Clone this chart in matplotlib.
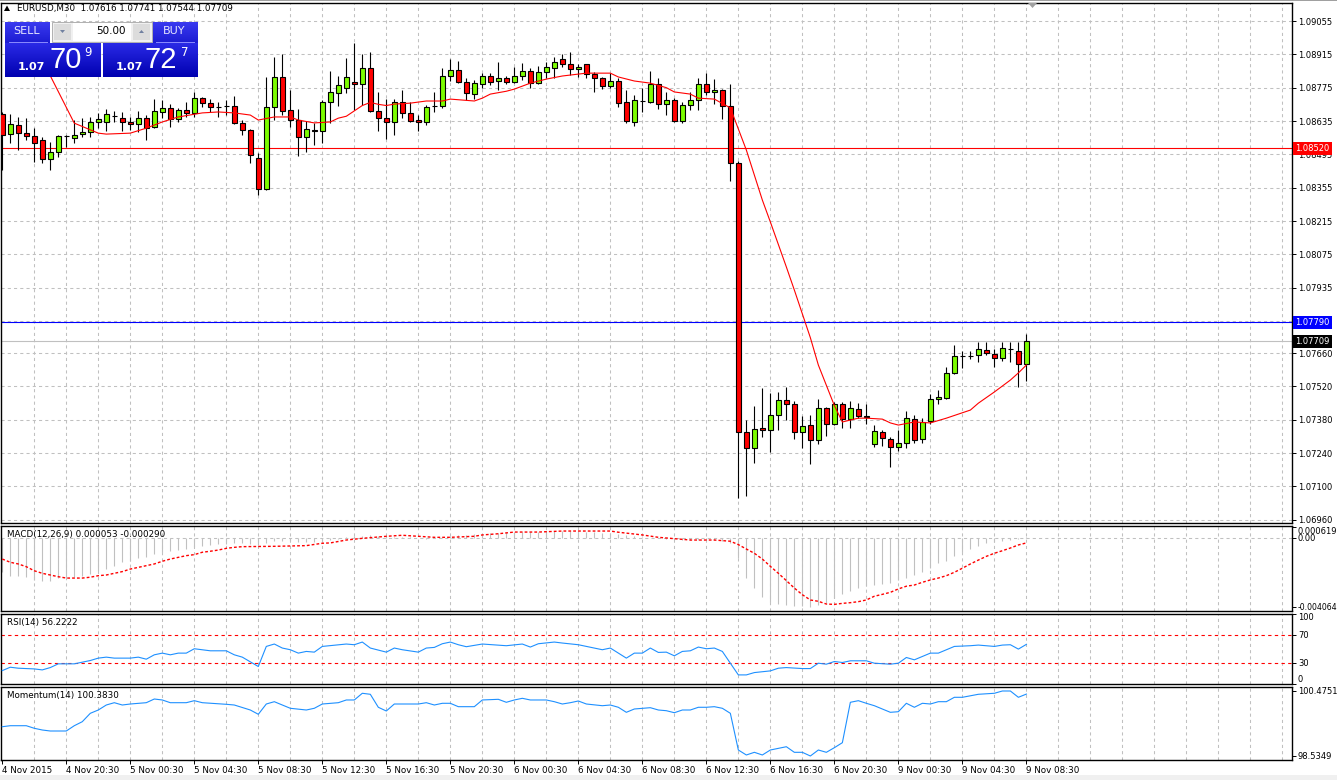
import numpy as np
import matplotlib
matplotlib.use('Agg')
import matplotlib.pyplot as plt
import matplotlib.transforms as mtransforms
from matplotlib.patches import Rectangle, Polygon
from matplotlib.colors import to_rgb

plt.rcParams['font.family'] = ['DejaVu Sans']
plt.rcParams['font.size'] = 6.3

# ---------------- data ----------------
symbol = 'EURUSD,M30'
time_labels = ['4 Nov 2015', '4 Nov 20:30', '5 Nov 00:30', '5 Nov 04:30', '5 Nov 08:30',
               '5 Nov 12:30', '5 Nov 16:30', '5 Nov 20:30', '6 Nov 00:30', '6 Nov 04:30',
               '6 Nov 08:30', '6 Nov 12:30', '6 Nov 16:30', '6 Nov 20:30', '9 Nov 00:30',
               '9 Nov 04:30', '9 Nov 08:30']

opens = [
    1.08664, 1.08580, 1.08618, 1.08584, 1.08572, 1.08555, 1.08475, 1.08505, 1.08572, 1.08563,
    1.08580, 1.08589, 1.08631, 1.08631, 1.08656, 1.08647, 1.08631, 1.08622, 1.08647, 1.08610,
    1.08673, 1.08689, 1.08643, 1.08681, 1.08668, 1.08731, 1.08710, 1.08694, 1.08698, 1.08698,
    1.08627, 1.08597, 1.08479, 1.08349, 1.08694, 1.08820, 1.08681, 1.08639, 1.08568, 1.08597,
    1.08593, 1.08715, 1.08752, 1.08773, 1.08799, 1.08790, 1.08857, 1.08677, 1.08647, 1.08631,
    1.08715, 1.08668, 1.08639, 1.08631, 1.08698, 1.08698, 1.08824, 1.08849, 1.08799, 1.08748,
    1.08790, 1.08824, 1.08803, 1.08815, 1.08799, 1.08824, 1.08845, 1.08794, 1.08841, 1.08857,
    1.08895, 1.08874, 1.08853, 1.08874, 1.08832, 1.08815, 1.08782, 1.08803, 1.08715, 1.08631,
    1.08719, 1.08715, 1.08790, 1.08706, 1.08723, 1.08635, 1.08702, 1.08723, 1.08790, 1.08757,
    1.08765, 1.08698, 1.08459, 1.07329, 1.07261, 1.07345, 1.07337, 1.07400, 1.07463, 1.07446,
    1.07329, 1.07358, 1.07295, 1.07429, 1.07362, 1.07446, 1.07383, 1.07425, 1.07392, 1.07279,
    1.07328, 1.07299, 1.07266, 1.07282, 1.07383, 1.07299, 1.07375, 1.07467, 1.07471, 1.07577,
    1.07648, 1.07648, 1.07652, 1.07673, 1.07656, 1.07639, 1.07677, 1.07669, 1.07616]

highs = [
    1.08673, 1.08664, 1.08652, 1.08647, 1.08605, 1.08568, 1.08547, 1.08576, 1.08576, 1.08639,
    1.08647, 1.08652, 1.08668, 1.08685, 1.08677, 1.08673, 1.08652, 1.08677, 1.08660, 1.08727,
    1.08723, 1.08706, 1.08689, 1.08715, 1.08757, 1.08736, 1.08727, 1.08715, 1.08723, 1.08740,
    1.08639, 1.08601, 1.08500, 1.08820, 1.08904, 1.08916, 1.08765, 1.08685, 1.08635, 1.08627,
    1.08723, 1.08845, 1.08824, 1.08899, 1.08962, 1.08916, 1.08925, 1.08757, 1.08727, 1.08727,
    1.08765, 1.08715, 1.08660, 1.08702, 1.08757, 1.08857, 1.08895, 1.08887, 1.08815, 1.08807,
    1.08836, 1.08836, 1.08883, 1.08824, 1.08862, 1.08878, 1.08857, 1.08866, 1.08883, 1.08904,
    1.08916, 1.08925, 1.08874, 1.08874, 1.08841, 1.08820, 1.08836, 1.08815, 1.08765, 1.08744,
    1.08773, 1.08845, 1.08815, 1.08757, 1.08731, 1.08715, 1.08757, 1.08815, 1.08836, 1.08811,
    1.08769, 1.08790, 1.08465, 1.07379, 1.07438, 1.07513, 1.07492, 1.07497, 1.07518, 1.07459,
    1.07396, 1.07400, 1.07467, 1.07434, 1.07455, 1.07455, 1.07459, 1.07450, 1.07446, 1.07358,
    1.07337, 1.07308, 1.07337, 1.07417, 1.07400, 1.07387, 1.07488, 1.07505, 1.07602, 1.07694,
    1.07669, 1.07669, 1.07707, 1.07707, 1.07677, 1.07707, 1.07707, 1.07707, 1.07741]

lows = [
    1.08429, 1.08542, 1.08513, 1.08555, 1.08463, 1.08459, 1.08429, 1.08484, 1.08526, 1.08542,
    1.08568, 1.08568, 1.08605, 1.08593, 1.08631, 1.08593, 1.08597, 1.08589, 1.08555, 1.08605,
    1.08647, 1.08610, 1.08631, 1.08652, 1.08652, 1.08694, 1.08673, 1.08652, 1.08660, 1.08622,
    1.08576, 1.08459, 1.08324, 1.08345, 1.08639, 1.08660, 1.08610, 1.08488, 1.08505, 1.08534,
    1.08542, 1.08627, 1.08698, 1.08752, 1.08681, 1.08702, 1.08673, 1.08593, 1.08559, 1.08576,
    1.08647, 1.08631, 1.08593, 1.08618, 1.08673, 1.08689, 1.08803, 1.08794, 1.08723, 1.08727,
    1.08773, 1.08786, 1.08765, 1.08790, 1.08794, 1.08807, 1.08773, 1.08790, 1.08815, 1.08815,
    1.08862, 1.08828, 1.08820, 1.08815, 1.08757, 1.08769, 1.08773, 1.08694, 1.08627, 1.08614,
    1.08673, 1.08710, 1.08685, 1.08660, 1.08631, 1.08627, 1.08681, 1.08681, 1.08744, 1.08706,
    1.08643, 1.08383, 1.07051, 1.07060, 1.07198, 1.07308, 1.07245, 1.07337, 1.07379, 1.07299,
    1.07261, 1.07194, 1.07279, 1.07312, 1.07358, 1.07345, 1.07345, 1.07387, 1.07362, 1.07266,
    1.07270, 1.07182, 1.07249, 1.07261, 1.07282, 1.07282, 1.07362, 1.07446, 1.07467, 1.07572,
    1.07597, 1.07635, 1.07623, 1.07652, 1.07602, 1.07627, 1.07623, 1.07518, 1.07544]

closes = [
    1.08576, 1.08622, 1.08584, 1.08572, 1.08542, 1.08475, 1.08505, 1.08572, 1.08570, 1.08576,
    1.08589, 1.08631, 1.08643, 1.08664, 1.08658, 1.08631, 1.08622, 1.08647, 1.08605, 1.08677,
    1.08689, 1.08643, 1.08681, 1.08668, 1.08731, 1.08710, 1.08694, 1.08692, 1.08696, 1.08627,
    1.08597, 1.08492, 1.08349, 1.08694, 1.08820, 1.08677, 1.08639, 1.08568, 1.08601, 1.08595,
    1.08715, 1.08757, 1.08786, 1.08820, 1.08790, 1.08857, 1.08677, 1.08647, 1.08631, 1.08715,
    1.08668, 1.08635, 1.08631, 1.08694, 1.08700, 1.08824, 1.08849, 1.08799, 1.08752, 1.08794,
    1.08824, 1.08799, 1.08815, 1.08799, 1.08824, 1.08845, 1.08794, 1.08841, 1.08862, 1.08883,
    1.08874, 1.08853, 1.08862, 1.08832, 1.08815, 1.08782, 1.08803, 1.08710, 1.08635, 1.08723,
    1.08721, 1.08790, 1.08706, 1.08723, 1.08635, 1.08702, 1.08723, 1.08790, 1.08757, 1.08765,
    1.08698, 1.08459, 1.07329, 1.07261, 1.07341, 1.07337, 1.07400, 1.07463, 1.07446, 1.07329,
    1.07354, 1.07295, 1.07429, 1.07362, 1.07446, 1.07383, 1.07429, 1.07396, 1.07394, 1.07332,
    1.07303, 1.07266, 1.07282, 1.07387, 1.07295, 1.07371, 1.07467, 1.07476, 1.07577, 1.07648,
    1.07648, 1.07650, 1.07677, 1.07660, 1.07639, 1.07681, 1.07679, 1.07614, 1.07709]

# moving average line (bar, price)
ma_bars = [2, 6, 9, 12, 13, 16, 18, 20, 22, 25, 27, 29, 31, 32, 34, 36, 37, 39, 41, 42,
           43, 45, 46, 47, 48, 49, 51, 53, 55, 56, 59, 60, 61, 63, 64, 66, 68, 70, 72, 73,
           76, 77, 79, 81, 83, 84, 86, 87, 89, 91, 93, 95, 96, 98, 99, 101, 102, 104, 105, 107,
           108, 110, 111, 112, 114, 116, 118, 121, 122, 124, 126, 127, 128]
ma_vals = [1.09005, 1.08825, 1.08626, 1.08584, 1.08580, 1.08584, 1.08605, 1.08631, 1.08652, 1.08669,
           1.08673, 1.08669, 1.08660, 1.08639, 1.08652, 1.08652, 1.08639, 1.08627, 1.08631, 1.08647,
           1.08655, 1.08700, 1.08713, 1.08705, 1.08700, 1.08706, 1.08710, 1.08719, 1.08719, 1.08727,
           1.08719, 1.08731, 1.08748, 1.08760, 1.08769, 1.08794, 1.08811, 1.08824, 1.08832, 1.08836,
           1.08836, 1.08820, 1.08803, 1.08794, 1.08775, 1.08757, 1.08748, 1.08731, 1.08727, 1.08690,
           1.08513, 1.08303, 1.08211, 1.08022, 1.07925, 1.07725, 1.07610, 1.07440, 1.07371, 1.07387,
           1.07387, 1.07383, 1.07367, 1.07358, 1.07371, 1.07367, 1.07387, 1.07421, 1.07450, 1.07497,
           1.07547, 1.07577, 1.07610]

red_level = 1.08520
blue_level = 1.07790

price_ticks = [1.09055, 1.08915, 1.08775, 1.08635, 1.08495, 1.08355, 1.08215, 1.08075, 1.07935,
               1.07797, 1.07660, 1.07520, 1.07380, 1.07240, 1.07100, 1.06960]
price_tick_text = ['1.09055', '1.08915', '1.08775', '1.08635', '1.08495', '1.08355', '1.08215',
                   '1.08075', '1.07935', '', '1.07660', '1.07520', '1.07380', '1.07240',
                   '1.07100', '1.06960']

macd_main = [
    -0.00200, -0.00222, -0.00222, -0.00228, -0.00247, -0.00251, -0.00251, -0.00237, -0.00231, -0.00231,
    -0.00222, -0.00212, -0.00193, -0.00183, -0.00163, -0.00143, -0.00134, -0.00120, -0.00114, -0.00094,
    -0.00084, -0.00075, -0.00071, -0.00065, -0.00055, -0.00047, -0.00041, -0.00038, -0.00035, -0.00032,
    -0.00032, -0.00035, -0.00044, -0.00029, -0.00018, -0.00015, -0.00018, -0.00024, -0.00024, -0.00024,
    -0.00018, -0.00012, -0.00006, 0.00006, 0.00012, 0.00012, 0.00015, 0.00012, 0.00009, 0.00006,
    0.00006, 0.00003, 0.00000, -0.00003, 0.00000, 0.00006, 0.00012, 0.00015, 0.00018, 0.00021,
    0.00024, 0.00029, 0.00032, 0.00035, 0.00035, 0.00038, 0.00038, 0.00038, 0.00041, 0.00041,
    0.00041, 0.00041, 0.00041, 0.00038, 0.00035, 0.00032, 0.00029, 0.00024, 0.00015, 0.00009,
    0.00006, 0.00000, 0.00000, -0.00006, -0.00009, -0.00012, -0.00012, -0.00009, -0.00009, -0.00009,
    -0.00015, -0.00029, -0.00118, -0.00236, -0.00295, -0.00346, -0.00375, -0.00389, -0.00395, -0.00400,
    -0.00400, -0.004064, -0.00392, -0.00380, -0.00353, -0.00330, -0.00312, -0.00295, -0.00283, -0.00277,
    -0.00271, -0.00265, -0.00247, -0.00233, -0.00218, -0.00200, -0.00177, -0.00150, -0.00134, -0.00104,
    -0.00084, -0.00062, -0.00047, -0.00029, -0.00021, -0.00015, -0.00009, -0.00003, 0.000053]

sig_bars = [0, 1, 2, 3, 4, 5, 6, 7, 8, 10, 11, 12, 13, 14, 15, 16, 17, 18, 19, 20,
            21, 22, 23, 24, 25, 26, 27, 28, 29, 30, 34, 38, 40, 41, 43, 45, 48, 50, 52, 54,
            56, 59, 60, 62, 64, 67, 70, 76, 77, 80, 82, 84, 86, 89, 91, 92, 93, 94, 95, 96,
            97, 98, 99, 100, 101, 102, 103, 104, 105, 106, 107, 108, 109, 110, 111, 112, 113, 114, 115, 116,
            117, 118, 119, 120, 121, 122, 123, 124, 125, 126, 127, 128]
sig_vals = [-0.00124, -0.00143, -0.00153, -0.00169, -0.00193, -0.00208, -0.00218, -0.00228, -0.00236, -0.00236,
            -0.00231, -0.00222, -0.00218, -0.00208, -0.00198, -0.00183, -0.00173, -0.00163, -0.00153, -0.00137,
            -0.00124, -0.00114, -0.00104, -0.00098, -0.00084, -0.00078, -0.00071, -0.00061, -0.00055, -0.00051,
            -0.00049, -0.00045, -0.00031, -0.00029, -0.00012, -0.00002, 0.00010, 0.00016, 0.00010, 0.00004,
            0.00004, 0.00010, 0.00018, 0.00025, 0.00035, 0.00035, 0.00041, 0.00041, 0.00034, 0.00018,
            0.00004, -0.00004, -0.00012, -0.00012, -0.00019, -0.00039, -0.00065, -0.00090, -0.00124, -0.00167,
            -0.00208, -0.00251, -0.00295, -0.00334, -0.00365, -0.00373, -0.00389, -0.00391, -0.00385, -0.00381,
            -0.00375, -0.00365, -0.00343, -0.00332, -0.00320, -0.00300, -0.00284, -0.00277, -0.00261, -0.00247,
            -0.00236, -0.00222, -0.00202, -0.00178, -0.00153, -0.00130, -0.00108, -0.00090, -0.00075, -0.00059,
            -0.00041, -0.000290]

rsi_bars = [0, 1, 2, 4, 5, 6, 7, 9, 11, 12, 13, 14, 16, 17, 18, 19, 20, 21, 22, 23,
            24, 26, 28, 29, 30, 32, 33, 34, 35, 36, 37, 38, 39, 40, 43, 44, 45, 46, 48, 49,
            50, 52, 53, 54, 55, 56, 57, 58, 60, 63, 65, 66, 67, 69, 70, 72, 75, 76, 78, 79,
            80, 81, 82, 83, 84, 85, 86, 87, 88, 89, 90, 91, 92, 93, 94, 96, 97, 98, 100, 101,
            102, 103, 104, 105, 106, 108, 109, 111, 112, 113, 114, 116, 117, 119, 121, 122, 124, 125, 126, 127,
            128]
rsi_vals = [19.0, 23.8, 22.4, 21.4, 20.0, 23.3, 28.6, 28.6, 33.3, 36.7, 38.1, 36.7, 36.7, 38.1, 35.2, 41.4, 43.8, 41.4, 43.8, 43.8,
            50.0, 47.1, 47.1, 41.4, 38.1, 24.8, 53.3, 56.7, 51.0, 48.6, 43.8, 46.2, 45.2, 53.3, 56.7, 55.7, 59.5, 51.0, 45.2, 51.0,
            48.6, 45.2, 51.0, 51.9, 57.1, 59.5, 55.7, 52.9, 56.7, 54.3, 56.7, 52.4, 57.1, 59.5, 58.1, 55.7, 48.6, 51.0, 36.7, 43.8,
            43.8, 51.0, 44.8, 45.2, 40.0, 46.2, 47.1, 52.4, 50.0, 51.0, 46.2, 29.5, 12.9, 12.9, 16.2, 18.6, 22.4, 23.3, 21.9, 21.9,
            29.5, 28.1, 31.9, 30.5, 32.9, 32.9, 29.5, 28.1, 29.5, 37.6, 34.3, 43.8, 43.8, 53.3, 54.3, 55.2, 53.3, 55.2, 55.7, 49.5,
            56.2222]

mom_bars = [0, 1, 3, 4, 5, 6, 8, 9, 10, 11, 12, 13, 14, 15, 16, 18, 19, 20, 21, 23,
            24, 25, 28, 29, 31, 32, 33, 34, 35, 36, 38, 39, 40, 42, 43, 44, 45, 46, 47, 48,
            49, 52, 53, 54, 55, 56, 57, 59, 60, 62, 63, 64, 65, 66, 68, 69, 70, 71, 72, 73,
            75, 76, 77, 78, 79, 81, 82, 83, 84, 85, 86, 87, 88, 89, 90, 91, 92, 93, 94, 95,
            96, 98, 99, 100, 101, 102, 103, 104, 105, 106, 107, 108, 109, 111, 112, 113, 114, 115, 116, 117,
            118, 119, 120, 122, 124, 125, 126, 127, 128]
mom_vals = [99.409, 99.439, 99.439, 99.362, 99.311, 99.281, 99.281, 99.439, 99.559, 99.809,
            99.908, 100.057, 100.126, 100.057, 100.087, 100.126, 100.236, 100.207, 100.126, 100.126,
            100.186, 100.126, 100.078, 100.057, 99.908, 99.780, 100.087, 100.156, 100.057, 99.959,
            99.908, 99.959, 100.087, 100.126, 100.207, 100.207, 100.407, 100.377, 99.989, 99.878,
            100.087, 100.087, 100.126, 100.057, 100.108, 100.108, 100.007, 100.007, 100.207, 100.227,
            100.138, 100.207, 100.257, 100.207, 100.207, 100.156, 100.087, 100.126, 100.177, 100.087,
            100.036, 100.057, 99.989, 99.839, 99.938, 99.977, 99.908, 99.887, 99.827, 99.908,
            99.908, 99.989, 99.989, 100.007, 99.959, 99.809, 98.714, 98.565, 98.645, 98.565,
            98.714, 98.812, 98.645, 98.645, 98.5349, 98.714, 98.645, 98.783, 98.932, 100.138,
            100.186, 100.108, 100.036, 99.839, 99.857, 100.108, 99.989, 100.108, 100.087, 100.156,
            100.156, 100.287, 100.287, 100.377, 100.407, 100.4751, 100.4751, 100.287, 100.383]

# ---------------- layout ----------------
W, H = 1337, 780
fig = plt.figure(figsize=(W / 100, H / 100), dpi=100)
fig.patch.set_facecolor('white')


def px_box(x0, y0, x1, y1):
    return [x0 / W, 1 - y1 / H, (x1 - x0) / W, (y1 - y0) / H]


GRID = dict(color='#c0c0c0', linestyle=(0, (3, 3)), linewidth=0.75)
SCALE_FS = 6.0
idx = np.arange(len(opens))


def style(ax):
    ax.set_xlim(-0.16, 161.2)
    for s in ax.spines.values():
        s.set_linewidth(1.0)
        s.set_color('black')
    ax.yaxis.tick_right()
    ax.tick_params(axis='y', which='both', direction='out', length=3, width=0.7, pad=1.2,
                   labelsize=SCALE_FS, colors='black')
    ax.set_xticks(np.arange(0, len(opens), 8))
    ax.set_xticks(np.arange(4, 161, 4), minor=True)
    ax.xaxis.remove_overlapping_locs = False
    ax.tick_params(axis='x', which='both', length=0, labelbottom=False)
    ax.grid(which='minor', axis='x', **GRID)
    ax.set_axisbelow(True)


ax = fig.add_axes(px_box(1, 2.5, 1292, 522.5))
ax_macd = fig.add_axes(px_box(1, 525.5, 1292, 611))
ax_rsi = fig.add_axes(px_box(1, 613.5, 1292, 684))
ax_mom = fig.add_axes(px_box(1, 686.5, 1292, 760))
for a in (ax, ax_macd, ax_rsi, ax_mom):
    style(a)

# ---------------- main price panel ----------------
ax.set_ylim(1.069488, 1.091327)
ax.set_yticks(price_ticks)
ax.set_yticklabels(price_tick_text)
ax.grid(which='major', axis='y', **GRID)

ax.axhline(red_level, color='#ff0000', lw=0.8, zorder=1.5)
ax.axhline(blue_level, color='#0000ff', lw=0.8, zorder=1.5)
ax.axhline(closes[-1], color='#c0c0c0', lw=0.8, zorder=1.5)

o = np.array(opens)
c = np.array(closes)
body_col = np.where(c < o, '#ff0000', '#7cfc00')
ax.vlines(idx, lows, highs, color='black', lw=0.8, zorder=2)
ax.bar(idx, np.abs(c - o), bottom=np.minimum(o, c), width=0.58, color=body_col,
       edgecolor='black', linewidth=0.8, zorder=3)
ax.plot(ma_bars, ma_vals, color='#ff0000', lw=0.8, zorder=4)

blend = mtransforms.blended_transform_factory(ax.transAxes, ax.transData)
tag_x = (1295.5 - 1) / 1291
for val, fc in ((red_level, '#ff0000'), (blue_level, '#0000ff'), (closes[-1], 'black')):
    ax.text(tag_x, val, f'{val:.5f}', transform=blend, color='white', fontsize=SCALE_FS,
            va='center', ha='left', clip_on=False, zorder=20,
            bbox=dict(boxstyle='square,pad=0.25', fc=fc, ec='none'))

# ---------------- MACD ----------------
ax_macd.set_ylim(-0.0043, 0.000736)
ax_macd.axhline(0, **GRID)
ax_macd.vlines(idx, 0, macd_main, color='#c0c0c0', lw=0.8, zorder=2)
ax_macd.plot(sig_bars, sig_vals, color='#ff0000', lw=1.0, linestyle=(0, (2, 1.5)), zorder=3)
ax_macd.set_yticks([-0.004064, 0.0, 0.000619])
ax_macd.set_yticklabels(['-0.004064', '0.00', '0.000619'])
mlabs = ax_macd.get_yticklabels()
mlabs[0].set_fontsize(5.6)
mlabs[2].set_va('top')

# ---------------- RSI ----------------
ax_rsi.set_ylim(0, 100)
ax_rsi.set_yticks([0, 30, 70, 100])
ax_rsi.set_yticklabels(['0', '30', '70', '100'])
labs = ax_rsi.get_yticklabels()
labs[0].set_va('bottom')
labs[3].set_va('top')
for lvl in (30, 70):
    ax_rsi.axhline(lvl, color='#ff0000', lw=0.8, linestyle=(0, (3, 3)), zorder=1.5)
ax_rsi.plot(rsi_bars, rsi_vals, color='#1e90ff', lw=0.8, zorder=3)

# ---------------- Momentum ----------------
ax_mom.set_ylim(98.4155, 100.6094)
ax_mom.set_yticks([98.5349, 100.4751])
ax_mom.set_yticklabels(['98.5349', '100.4751'])
ax_mom.plot(mom_bars, mom_vals, color='#1e90ff', lw=0.8, zorder=3)
ax_mom.set_xticklabels(time_labels, ha='left')
ax_mom.tick_params(axis='x', which='major', length=3, width=0.7, direction='out',
                   labelbottom=True, labelsize=6.3, pad=1.5)

# ---------------- overlay: header, one-click panel, captions ----------------
ov = fig.add_axes([0, 0, 1, 1], zorder=10)
ov.patch.set_alpha(0)
ov.axis('off')


def grad_box(x0, y0, x1, y1, top, bot):
    g = np.linspace(0, 1, 50)[:, None, None]
    img = (1 - g) * np.array(to_rgb(top)) + g * np.array(to_rgb(bot))
    ov.imshow(img, extent=(x0, x1, y1, y0), aspect='auto', interpolation='bilinear', zorder=11)


ov.add_patch(Rectangle((0, 0), W, 1.2, color='#a0a0a0', lw=0))
ov.add_patch(Rectangle((0, 775), W, 5, color='#f0f0f0', lw=0))
ov.add_patch(Polygon([(1028, 3), (1037, 3), (1032.5, 8)], closed=True, color='#a0a0a0', lw=0))

ov.add_patch(Polygon([(4, 11), (10, 11), (7, 5.5)], closed=True, color='black', lw=0))
ov.text(17, 8.5, f'{symbol}  {opens[-1]:.5f} {highs[-1]:.5f} {lows[-1]:.5f} {closes[-1]:.5f}',
        fontsize=6.3, va='center', ha='left')

# SELL / BUY buttons
grad_box(5, 22, 50, 43, '#3a3af0', '#1c1cd2')
grad_box(152, 22, 198, 43, '#3a3af0', '#1c1cd2')
grad_box(5, 43, 101, 77, '#2a2ae6', '#0000b0')
grad_box(103, 43, 198, 77, '#2a2ae6', '#0000b0')
ov.plot([9, 47], [41.5, 41.5], color='#8c8cff', lw=0.7, zorder=12)
ov.plot([156, 194], [41.5, 41.5], color='#8c8cff', lw=0.7, zorder=12)
ov.text(27, 31.5, 'SELL', color='#e8e8ff', fontsize=8, ha='center', va='center', zorder=13)
ov.text(174, 31.5, 'BUY', color='#e8e8ff', fontsize=8, ha='center', va='center', zorder=13)

# lot spinner
ov.add_patch(Rectangle((52, 22), 100, 20, fc='#f0f0f0', ec='#b0b0b0', lw=0.7, zorder=11))
ov.add_patch(Rectangle((73, 23), 58, 18, fc='white', ec='none', zorder=12))
ov.add_patch(Rectangle((54, 24), 17, 16, fc='#dcdcdc', ec='none', zorder=12))
ov.add_patch(Rectangle((133, 24), 17, 16, fc='#dcdcdc', ec='none', zorder=12))
ov.add_patch(Polygon([(60, 30), (65, 30), (62.5, 33)], closed=True, color='#7080a0', lw=0, zorder=13))
ov.add_patch(Polygon([(139, 33), (144, 33), (141.5, 30)], closed=True, color='#7080a0', lw=0, zorder=13))
ov.text(126, 31.5, '50.00', fontsize=7.5, ha='right', va='center', zorder=13)

# bid / ask prices
bid_big, ask_big = '70', '72'
ov.text(31.5, 66.5, '1.07', color='white', fontsize=8, fontweight='bold', ha='center', va='center', zorder=13)
ov.text(66, 60.5, bid_big, color='white', fontsize=21, family='Liberation Sans', ha='center', va='center', zorder=13)
ov.text(88, 52, '9', color='white', fontsize=8.5, ha='center', va='center', zorder=13)
ov.text(129, 66.5, '1.07', color='white', fontsize=8, fontweight='bold', ha='center', va='center', zorder=13)
ov.text(161, 60.5, ask_big, color='white', fontsize=21, family='Liberation Sans', ha='center', va='center', zorder=13)
ov.text(185, 52, '7', color='white', fontsize=8.5, ha='center', va='center', zorder=13)

# indicator captions
ov.text(7, 534.5, f'MACD(12,26,9) {macd_main[-1]:.6f} {sig_vals[-1]:.6f}', fontsize=6.3, va='center', ha='left')
ov.text(7, 622.5, f'RSI(14) {rsi_vals[-1]:.4f}', fontsize=6.3, va='center', ha='left')
ov.text(7, 695.5, f'Momentum(14) {mom_vals[-1]:.4f}', fontsize=6.3, va='center', ha='left')

ov.set_xlim(0, W)
ov.set_ylim(H, 0)

fig.savefig('out.png', dpi=100)
